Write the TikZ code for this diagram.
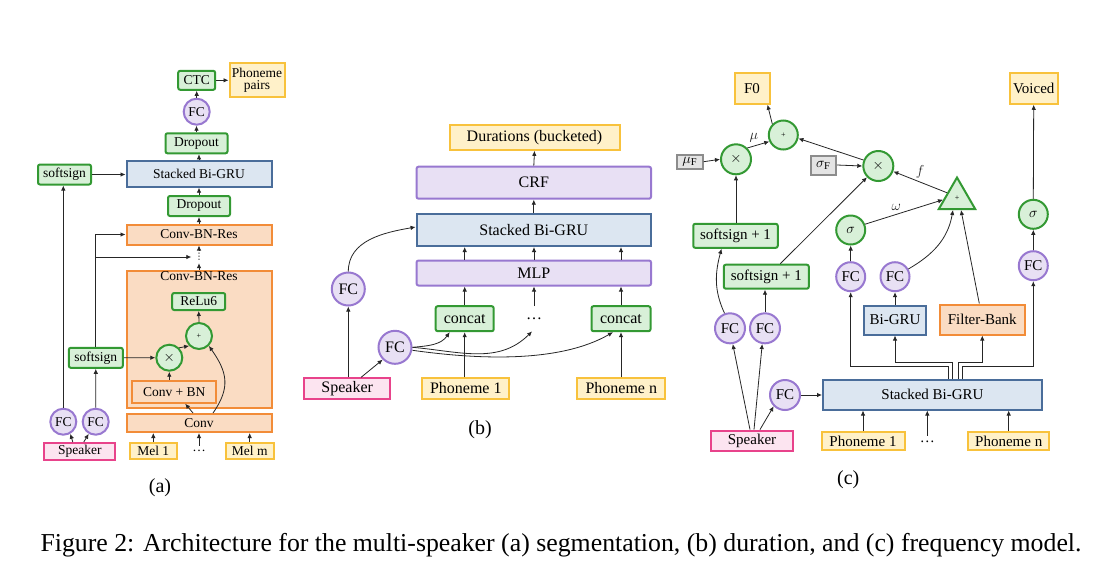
\documentclass[tikz,border=0pt]{standalone}
\usepackage{fontspec}
\setmainfont{Liberation Serif}
\newfontfamily\symFont{DejaVu Sans}
\usepackage{amsmath}
\usetikzlibrary{arrows.meta,positioning,shapes.geometric}
\definecolor{ssGreen}{HTML}{339933}
\definecolor{ssGreenL}{HTML}{D8F0D8}
\definecolor{ssPurple}{HTML}{9878D0}
\definecolor{ssPurpleL}{HTML}{E8E0F4}
\definecolor{ssBlue}{HTML}{4A6D9A}
\definecolor{ssBlueL}{HTML}{DCE6F1}
\definecolor{ssOrange}{HTML}{F28C38}
\definecolor{ssOrangeL}{HTML}{FADCC3}
\definecolor{ssYellow}{HTML}{F8C23C}
\definecolor{ssYellowL}{HTML}{FFF1C9}
\definecolor{ssPink}{HTML}{E8438B}
\definecolor{ssPinkL}{HTML}{FCE4F0}
\definecolor{ssGray}{HTML}{8C8C8C}
\definecolor{ssGrayL}{HTML}{E4E4E4}
\newcommand{\aFont}{\fontsize{13.5}{14.5}\selectfont}
\newcommand{\bFont}{\fontsize{16}{17}\selectfont}
\newcommand{\cFont}{\fontsize{15}{16}\selectfont}

\begin{document}
\begin{tikzpicture}[x=1pt, y=1pt,
  wh/.style 2 args={minimum width=#1pt, minimum height=#2pt},
  gBox/.style ={rectangle, draw=ssGreen, fill=ssGreenL, line width=2pt, rounded corners=2pt, inner sep=1pt},
  pBox/.style ={rectangle, draw=ssPurple, fill=ssPurpleL, line width=2pt, rounded corners=2pt, inner sep=1pt},
  bBox/.style ={rectangle, draw=ssBlue, fill=ssBlueL, line width=2pt, inner sep=1pt},
  oBox/.style ={rectangle, draw=ssOrange, fill=ssOrangeL, line width=2pt, inner sep=1pt},
  yBox/.style ={rectangle, draw=ssYellow, fill=ssYellowL, line width=2pt, inner sep=1pt},
  kBox/.style ={rectangle, draw=ssPink, fill=ssPinkL, line width=2pt, inner sep=1pt},
  grBox/.style={rectangle, draw=ssGray, fill=ssGrayL, line width=2pt, inner sep=1pt},
  fcCirc/.style={circle, draw=ssPurple, fill=ssPurpleL, line width=2pt, inner sep=0pt},
  opCirc/.style={circle, draw=ssGreen, fill=ssGreenL, line width=2pt, inner sep=0pt},
  arr/.style={-{Latex[length=5pt,width=4.5pt]}, line width=0.8pt, black!85},
]
\fill[white] (0,0) rectangle (1104,-574);
\useasboundingbox (0,0) rectangle (1104,-574);

% (a) segmentation
\begin{scope}[font=\aFont]
\node[oBox, wh={145}{137}] (aRes1) at (199,-339.2) {};
\node[anchor=north, inner sep=2pt] (aRes1Lbl) at (aRes1.north) {Conv-BN-Res};
\node[gBox, wh={37}{19}]  (aCTC)   at (196.7,-80.3) {CTC};
\node[yBox, wh={55}{34}, align=center, inner sep=0pt] (aPhon) at (257,-80) {Phoneme\\[-2pt]pairs};
\node[fcCirc, minimum size=26pt] (aFC) at (196.7,-111.7) {FC};
\node[gBox, wh={62}{20}]  (aDrop2) at (196.5,-143.3) {Dropout};
\node[bBox, wh={145}{26}] (aGRU)   at (199,-173.7) {Stacked Bi-GRU};
\node[gBox, wh={53}{20}]  (aSoft1) at (64.5,-174.5) {softsign};
\node[gBox, wh={62}{20}]  (aDrop1) at (199,-206) {Dropout};
\node[oBox, wh={145}{20}] (aRes2)  at (199,-234.5) {Conv-BN-Res};
\node[inner sep=0pt, minimum height=12pt, font=\symFont\fontsize{9}{9}\selectfont] (aDots) at (199,-257) {⋮};
\node[gBox, wh={53}{17}]  (aReLU)  at (198.7,-301.5) {ReLu6};
\node[opCirc, minimum size=26pt, font=\footnotesize] (aPlus) at (199,-336) {+};
\node[opCirc, minimum size=26pt] (aTimes) at (169.3,-357.7) {$\times$};
\node[gBox, wh={54}{20}]  (aSoft2) at (95.8,-357.8) {softsign};
\node[oBox, wh={84}{22}]  (aConvBN) at (174.2,-391.7) {Conv + BN};
\node[oBox, wh={145}{18}] (aConv)  at (199,-423) {Conv};
\node[fcCirc, minimum size=26pt] (aFC1) at (63.3,-421.7) {FC};
\node[fcCirc, minimum size=26pt] (aFC2) at (95.7,-421.7) {FC};
\node[kBox, wh={71}{17}]  (aSpk)   at (79.8,-451.5) {Speaker};
\node[yBox, wh={47}{16}]  (aMel1)  at (153.3,-450.7) {Mel 1};
\node[inner sep=0pt, minimum height=10pt] (aMelDots) at (199,-451) {\dots};
\node[yBox, wh={48}{16}]  (aMelm)  at (249.7,-450.7) {Mel m};
\end{scope}
\node[font=\fontsize{20}{22}\selectfont] (aLbl) at (160,-488) {(a)};

\draw[arr] (aMel1.north) -- (aMel1.north |- aConv.south);
\draw[arr] (aMelDots.north) -- (aMelDots.north |- aConv.south);
\draw[arr] (aMelm.north) -- (aMelm.north |- aConv.south);
\draw[arr] ([xshift=-6pt]aConv.north) -- ([xshift=11pt]aConvBN.south);
\draw[arr] ([xshift=14pt]aConv.north) to[out=55,in=-55,looseness=1.2] (aPlus.south east);
\draw[arr] (aTimes.south |- aConvBN.north) -- (aTimes.south);
\draw[arr] (aSoft2.east) -- (aTimes.west);
\draw[arr] (aTimes.north east) -- (aPlus.south west);
\draw[arr] (aPlus.north) -- (aReLU.south);
\draw[arr] (aRes1.north) -- (aDots.south);
\draw[arr] (aDots.north) -- (aRes2.south);
\draw[arr] ([xshift=-7pt]aSpk.north) -- (aFC1.-60);
\draw[arr] ([xshift=4pt]aSpk.north) -- (aFC2.-120);
\draw[arr] (aFC1.north) -- (aFC1.north |- aSoft1.south);
\draw[arr] (aFC2.north) -- (aSoft2.south);
\draw[arr] (aSoft2.north) |- (aRes2.west);
\draw[arr] (aSoft2.north |- aDots) -- ([xshift=-3pt]aDots.west);
\draw[arr] (aSoft1.east) -- (aSoft1.east -| aGRU.west);
\draw[arr] (aRes2.north) -- (aDrop1.south);
\draw[arr] (aDrop1.north) -- (aGRU.south);
\draw[arr] (aGRU.north) -- (aGRU.north |- aDrop2.south);
\draw[arr] (aDrop2.north) -- (aDrop2.north |- aFC.south);
\draw[arr] (aFC.north) -- (aCTC.south);
\draw[arr] (aCTC.east) -- (aCTC.east -| aPhon.west);

% (b) duration
\begin{scope}[font=\bFont]
\node[yBox, wh={170}{25}]    (bDur)  at (534.5,-137.3) {Durations (bucketed)};
\node[pBox, wh={234.5}{32}]  (bCRF)  at (533.8,-182.7) {CRF};
\node[bBox, wh={234.5}{32}]  (bGRU)  at (533.8,-230) {Stacked Bi-GRU};
\node[pBox, wh={234.5}{25}]  (bMLP)  at (533.8,-273) {MLP};
\node[gBox, wh={58}{25}]     (bCat1) at (464.7,-318.7) {concat};
\node[inner sep=0pt, minimum height=25pt] (bDots) at (534,-318.7) {\dots};
\node[gBox, wh={59}{25}]     (bCatN) at (621,-318.7) {concat};
\node[fcCirc, minimum size=33pt] (bFC1) at (348.3,-289) {FC};
\node[fcCirc, minimum size=33pt] (bFC2) at (395,-347.3) {FC};
\node[kBox, wh={86.5}{20.5}] (bSpk)  at (347.2,-388.5) {Speaker};
\node[yBox, wh={87}{20.5}]   (bPh1)  at (465.8,-388.5) {Phoneme 1};
\node[yBox, wh={88}{20.5}]   (bPhN)  at (621.3,-388.5) {Phoneme n};
\end{scope}
\node[font=\fontsize{20}{22}\selectfont] (bLbl) at (480,-430) {(b)};

\draw[arr] (bFC1.south |- bSpk.north) -- (bFC1.south);
\draw[arr] ([xshift=14pt]bSpk.north) -- (bFC2.south west);
\draw[arr] (bFC1.north) to[out=90,in=190] ([yshift=3pt]bGRU.west);
\draw[arr] (bFC2.east) to[out=5,in=-125] ([xshift=-15pt]bCat1.south);
\draw[arr] (bFC2.east) to[out=-5,in=-135] ([xshift=-2pt]bDots.south);
\draw[arr] ([yshift=-3pt]bFC2.east) to[out=-8,in=-150,looseness=0.8] ([xshift=-8pt]bCatN.south);
\draw[arr] (bCat1.south |- bPh1.north) -- (bCat1.south);
\draw[arr] (bCatN.south |- bPhN.north) -- (bCatN.south);
\foreach \n in {bCat1,bDots,bCatN} {
  \draw[arr] (\n.north) -- (\n.north |- bMLP.south);
  \draw[arr] (\n.north |- bMLP.north) -- (\n.north |- bGRU.south);
}
\draw[arr] (bGRU.north) -- (bCRF.south);
\draw[arr] (bCRF.north) -- (bDur.south);

% (c) frequency
\begin{scope}[font=\cFont]
\node[yBox, wh={35}{30.5}]   (cF0)    at (752,-88.5) {F0};
\node[opCirc, minimum size=29pt, font=\footnotesize] (cPlus) at (783.3,-135) {+};
\node[opCirc, minimum size=30pt] (cMulL) at (736,-159.3) {$\times$};
\node[grBox, wh={26}{14}]    (cMuF)   at (689.7,-161.7) {$\mu_{\mathrm{F}}$};
\node[grBox, wh={25.5}{19}]  (cSigF)  at (823.3,-165) {$\sigma_{\mathrm{F}}$};
\node[opCirc, minimum size=30pt] (cMulR) at (878.3,-166) {$\times$};
\node[gBox, wh={84.5}{24}]   (cSoft1) at (735.5,-235.8) {softsign + 1};
\node[gBox, wh={85}{24}]     (cSoft2) at (766.3,-276.7) {softsign + 1};
\node[opCirc, minimum size=29pt] (cSig1) at (850.7,-230) {$\sigma$};
\node[fcCirc, minimum size=29pt] (cFC3) at (850.7,-276.7) {FC};
\node[fcCirc, minimum size=29pt] (cFC4) at (895,-276.7) {FC};
\node[fcCirc, minimum size=30pt] (cFC1) at (730,-328.3) {FC};
\node[fcCirc, minimum size=30pt] (cFC2) at (765,-328.3) {FC};
\node[fcCirc, minimum size=30pt] (cFC5) at (785,-395) {FC};
\node[kBox, wh={81.5}{20.5}] (cSpk)   at (752,-440.8) {Speaker};
\node[bBox, wh={219}{30}]    (cGRU)   at (932.5,-394.5) {Stacked Bi-GRU};
\node[yBox, wh={83}{18}]     (cPh1)   at (863,-441.2) {Phoneme 1};
\node[inner sep=0pt, minimum height=12pt] (cDots) at (927.3,-442) {\dots};
\node[yBox, wh={81.5}{18}]   (cPhN)   at (1008.7,-441.2) {Phoneme n};
\node[bBox, wh={62}{29}]     (cBiGRU) at (895,-320) {Bi-GRU};
\node[oBox, wh={85.5}{30}]   (cFB)    at (982.3,-319.5) {Filter-Bank};
\node[regular polygon, regular polygon sides=3, draw=ssGreen, fill=ssGreenL, line width=2pt,
      inner sep=0pt, minimum size=42pt, font=\footnotesize] (cTri) at (957,-198.5) {+};
\node[yBox, wh={48}{30.5}]   (cVoiced) at (1033.7,-88.5) {Voiced};
\node[opCirc, minimum size=29pt] (cSig2) at (1033.3,-214.3) {$\sigma$};
\node[fcCirc, minimum size=29pt] (cFC6) at (1033.3,-265.7) {FC};
\end{scope}
\node[font=\fontsize{20}{22}\selectfont] (cLbl) at (848.3,-480) {(c)};

\draw[arr] (cMuF.east) -- (cMulL.west);
\draw[arr] (cMulL.south |- cSoft1.north) -- (cMulL.south);
\draw[arr] (cMulL.north east) -- (cPlus.205) node[pos=0.3, above, font=\cFont] {$\mu$};
\draw[arr] (cPlus.135) -- ([xshift=-3pt]cF0.south east);
\draw[arr] (cMulR.158) -- (cPlus.-13);
\draw[arr] (cSigF.east) -- (cMulR.west);
\draw[arr] ([xshift=14pt]cSoft2.north) -- (cMulR.south west);
\draw[arr] (cTri.150) -- (cMulR.-20) node[midway, above, font=\cFont] {$f$};
\draw[arr] (cSig1.22) -- (cTri.185) node[pos=0.4, above, font=\cFont] {$\omega$};
\draw[arr] (cFC4.30) to[out=30,in=-100] ([xshift=-4pt]cTri.south);
\draw[arr] ([xshift=-3pt]cFB.north) -- ([xshift=4pt]cTri.south);
\draw[arr] (cFC3.north) -- (cSig1.south);
\draw[arr] (cBiGRU.north) -- (cFC4.south);
\draw[arr] ([xshift=15.5pt]cGRU.north) -- ++(0,12) -| (cFC3.south);
\draw[arr] ([xshift=19.5pt]cGRU.north) -- ++(0,16) -| (cBiGRU.south);
\draw[arr] ([xshift=25.5pt]cGRU.north) -- ++(0,16) -| (cFB.south);
\draw[arr] ([xshift=29.5pt]cGRU.north) -- ++(0,12) -| (cFC6.south);
\draw[arr] (cFC6.north) -- (cSig2.south);
\draw[arr] (cSig2.north) -- (cVoiced.south);
\draw[arr] ([xshift=-2pt]cSpk.north) -- (cFC1.-80);
\draw[arr] ([xshift=2pt]cSpk.north) -- (cFC2.-100);
\draw[arr] ([xshift=8pt]cSpk.north) -- (cFC5.south west);
\draw[arr] (cFC5.east) -- (cFC5.east -| cGRU.west);
\draw[arr] (cFC1.110) to[out=115,in=-105] ([xshift=-14pt]cSoft1.south);
\draw[arr] (cFC2.north) -- (cFC2.north |- cSoft2.south);
\draw[arr] (cPh1.north) -- (cPh1.north |- cGRU.south);
\draw[arr] (cDots.north) -- (cDots.north |- cGRU.south);
\draw[arr] (cPhN.north) -- (cPhN.north |- cGRU.south);

% caption
\node[font=\fontsize{25.8}{28}\selectfont] (capt) at (561,-545)
  {Figure 2: Architecture for the multi-speaker (a) segmentation, (b) duration, and (c) frequency model.};
\end{tikzpicture}
\end{document}
